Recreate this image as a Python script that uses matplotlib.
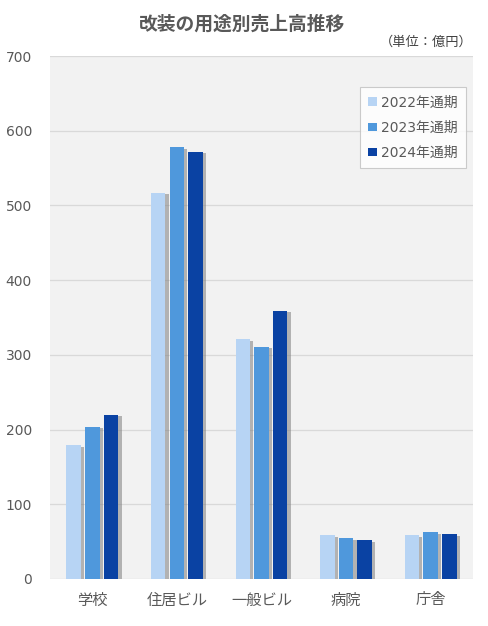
import numpy as np
import matplotlib
matplotlib.use("Agg")
import matplotlib.pyplot as plt
import matplotlib.patheffects as pe

plt.rcParams["font.family"] = ["DejaVu Sans", "Noto Sans CJK JP"]

categories = ["学校", "住居ビル", "一般ビル", "病院", "庁舎"]
series_names = ["2022年通期", "2023年通期", "2024年通期"]
sales_2022 = [179, 517, 321, 59, 59]
sales_2023 = [204, 578, 311, 55, 63]
sales_2024 = [220, 572, 359, 52, 60]
yticks = [0, 100, 200, 300, 400, 500, 600, 700]

colors = ["#b7d4f4", "#4f98dc", "#0a42a3"]
text_color = "#595959"

fig = plt.figure(figsize=(4.88, 6.26), dpi=100)
ax = fig.add_axes([0.1025, 0.0751, 0.8665, 0.8354])
ax.set_facecolor("#f2f2f2")

x = np.arange(len(categories))
width = 0.171
pitch = 0.221
all_bars = []
for i, (name, vals) in enumerate(zip(series_names, [sales_2022, sales_2023, sales_2024])):
    bars = ax.bar(x + (i - 1) * pitch, vals, width, color=colors[i], label=name, zorder=3)
    all_bars.append(bars)

ax.set_xlim(-0.5, len(categories) - 0.5)
ax.set_ylim(0, 700)
ax.set_yticks(yticks)
ax.set_xticks(x)
ax.set_xticklabels(categories, fontsize=11, color=text_color,
                   family=["Noto Sans CJK JP"])
ax.tick_params(axis="y", labelsize=10, colors=text_color, length=0, pad=13)
ax.tick_params(axis="x", length=0, pad=9)
ax.yaxis.grid(True, color="#d9d9d9", linewidth=0.9, zorder=0)
ax.set_axisbelow(True)
for s in ax.spines.values():
    s.set_visible(False)

leg = ax.legend(loc="upper right", bbox_to_anchor=(0.983, 0.94), fontsize=10,
                frameon=True, fancybox=False, edgecolor="#bfbfbf", facecolor="white",
                handlelength=0.6, handleheight=0.6, handletextpad=0.3,
                labelspacing=0.8, borderpad=0.6, borderaxespad=0)
leg.get_frame().set_linewidth(0.8)
for t in leg.get_texts():
    t.set_color(text_color)

# soft shadow on the right of each bar (added after the legend so the keys stay flat)
shadow = [pe.SimplePatchShadow(offset=(2.4, -1.2), shadow_rgbFace="#7f7f7f", alpha=0.55),
          pe.Normal()]
for bars in all_bars:
    for b in bars:
        b.set_path_effects(shadow)

fig.text(0.496, 0.961, "改装の用途別売上高推移", ha="center", va="center",
         fontsize=13.5, fontweight="bold", color=text_color,
         family=["Noto Sans CJK JP"])
fig.text(0.968, 0.932, "（単位：億円）", ha="right", va="center",
         fontsize=9.5, color="#404040", family=["Noto Sans CJK JP"])

fig.savefig("out.png", dpi=100, facecolor="white")
